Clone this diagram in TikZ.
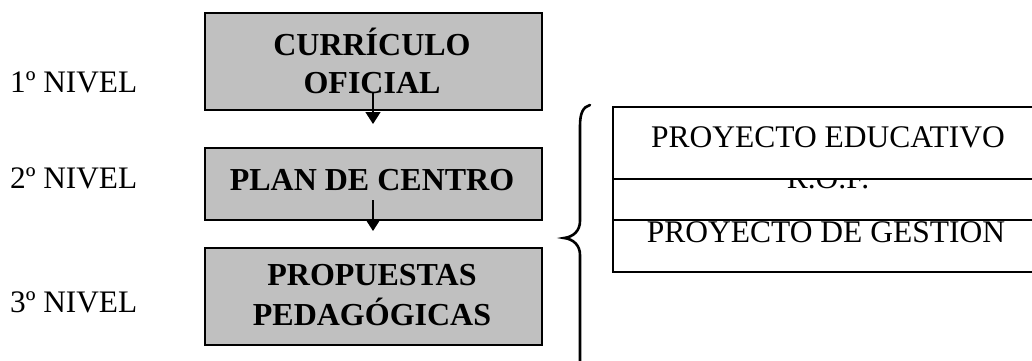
\documentclass[tikz,border=0pt]{standalone}
\usepackage{fontspec}
\setmainfont{Liberation Serif}
\usetikzlibrary{arrows.meta}
\definecolor{boxgray}{HTML}{C0C0C0}
\tikzset{
  gbox/.style={draw=black, line width=1.8pt, fill=boxgray, minimum width=337pt, inner sep=0pt, outer sep=0pt},
  btext/.style={font=\fontsize{32}{38}\selectfont\bfseries, inner sep=0pt, anchor=base},
  rtext/.style={font=\fontsize{31.5}{38}\selectfont, inner sep=0pt, anchor=base},
  lvl/.style={font=\fontsize{31.3}{38}\selectfont, inner sep=0pt, anchor=base west},
  arr/.style={line width=1.4pt, -{Triangle[width=15pt,length=12pt]}},
  cell/.style={line width=1.3pt},
  bracestyle/.style={line width=2.6pt, line cap=round}
}
\begin{document}
\begin{tikzpicture}[x=1pt,y=-1pt]
\clip (0,0) rectangle (1032,360);
\useasboundingbox (0,0) rectangle (1032,360);
\fill[white] (0,0) rectangle (1032,360);

% level labels
\node[lvl] (l1) at (10,92) {1º NIVEL};
\node[lvl] (l2) at (10,188) {2º NIVEL};
\node[lvl] (l3) at (10,312) {3º NIVEL};

% grey boxes
\node[gbox, minimum height=97pt] (b1) at (373.5,61.5) {};
\node[gbox, minimum height=72pt] (b2) at (373.5,184) {};
\node[gbox, minimum height=97pt] (b3) at (373.5,296.5) {};

\node[btext] (t1a) at (372,55) {CURRÍCULO};
\node[btext] (t1b) at (372,93) {OFICIAL};
\node[btext] (t2) at (372,190) {PLAN DE CENTRO};
\node[btext] (t3a) at (372,285) {PROPUESTAS};
\node[btext] (t3b) at (372,325) {PEDAGÓGICAS};

% arrows
\coordinate (a1s) at (373,93);
\coordinate (a1e) at (373,124);
\coordinate (a2s) at (373,200);
\coordinate (a2e) at (373,231);
\draw[arr] (a1s) -- (a1e);
\draw[arr] (a2s) -- (a2e);

% right cells
\begin{scope}
\clip (600,179) rectangle (1032,220);
\node[rtext] (rof) at (828,188) {R.O.F.};
\end{scope}
\node[rtext] (pe) at (828,147) {PROYECTO EDUCATIVO};
\node[rtext] (pg) at (826,242) {PROYECTO DE GESTION};
\coordinate (c1) at (613,107);
\coordinate (c2) at (613,179);
\coordinate (c3) at (613,220);
\coordinate (c4) at (613,272);
\draw[cell] (1040,107) -- (c1) -- (c4) -- (1040,272);
\draw[cell] (c2) -- (1040,179);
\draw[cell] (c3) -- (1040,220);

% brace
\draw[bracestyle] (590,105) .. controls (583,107) and (580,113) .. (580,126)
  -- (580,221) .. controls (580,231) and (573,237) .. (564,238)
  .. controls (573,239) and (580,245) .. (580,255) -- (580,370);
\end{tikzpicture}
\end{document}
